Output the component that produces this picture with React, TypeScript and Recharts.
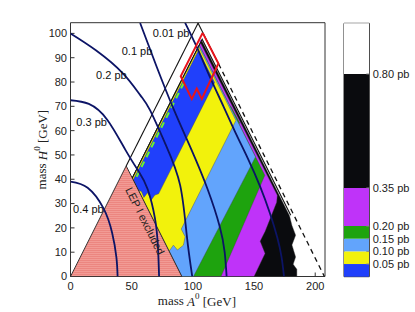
import React from 'react';
import { ScatterChart, Scatter, XAxis, YAxis, ReferenceDot, BarChart, Bar, ReferenceArea } from 'recharts';

type Pt = { x: number; y: number };
const toPts = (a: number[][]): Pt[] => a.map(([x, y]) => ({ x, y }));

const xTicks = [0, 50, 100, 150, 200];
const yTicks = [0, 10, 20, 30, 40, 50, 60, 70, 80, 90, 100];

// filled regions, painted in this order (each on top of the previous)
const region080 = toPts([[50.5, 40.5], [107.2, 97.2], [179, 25], [181, 21], [184, 17], [181, 13], [184, 8], [182, 5], [185, 3], [185, 0], [91, 0], [50.5, 40.5]]);
const region035 = toPts([[50.5, 40.5], [106.2, 96.2], [169, 33.4], [168.5, 30.5], [159, 18.5], [155, 14.5], [159, 9.5], [150, 0], [91, 0], [50.5, 40.5]]);
const region020 = toPts([[50.5, 40.5], [105.2, 95.2], [130, 70.4], [131, 70], [138.5, 63], [137.5, 63], [158.8, 41.6], [123, 0], [91, 0], [50.5, 40.5]]);
const region015 = toPts([[50.5, 40.5], [105.2, 95.2], [151.2, 49.2], [100.5, 0], [91, 0], [50.5, 40.5]]);
const region010 = toPts([[50.5, 40.5], [104.7, 94.7], [135.2, 64.2], [90.5, 19.5], [93.7, 16.4], [92.3, 12.9], [87.4, 10.9], [84.1, 12.9], [80.6, 10.4], [50.5, 40.5]]);
const region005 = toPts([[51.3, 39.8], [104.5, 93], [117.8, 79.8], [72, 34], [69, 33.5], [66, 31.5], [63, 34.5], [60, 32.5], [58, 35], [55.5, 35.5], [51.3, 39.8]]);
const apexSpot = toPts([[105.3, 96.6], [106.2, 97.5], [107, 96.7], [106.1, 95.8], [105.3, 96.6]]);
const lepRegion = toPts([[0, 0], [45.5, 45.5], [91, 0], [0, 0]]);

const regionColors = ['#0a0b0e', '#bf33f9', '#1ea30e', '#62a4fc', '#f2f20c', '#2040fb'];
const regions = [region080, region035, region020, region015, region010, region005];

// cross-section contours
const c001 = toPts([[93.7, 104.3], [104, 93.5], [114, 82], [125, 70], [135, 59], [145, 48.5], [155, 37], [163, 26], [169, 16], [172.5, 8], [174.5, 0]]);
const c01 = toPts([[56.9, 104.3], [70.5, 86.2], [85, 68], [99, 52], [112, 36], [122, 20.5], [126, 10], [127.6, 0]]);
const c02 = toPts([[0, 100], [21, 93], [43, 83.5], [57, 74.6], [65, 68.4], [78, 54], [89.6, 37.6], [95, 17], [99.5, 0]]);
const c03 = toPts([[0, 72.5], [15, 71], [30, 64.5], [45, 52], [56, 43], [63, 36], [69, 24], [71.5, 12], [72.4, 0]]);
const c04 = toPts([[0, 39], [14, 36.5], [27, 28], [34, 18], [37.5, 8], [38.5, 0]]);
const contours = [c001, c01, c02, c03, c04];

const contourLabels = [
  { x: 82.2, y: 100, text: '0.01 pb' },
  { x: 54.4, y: 92.6, text: '0.1 pb' },
  { x: 33.4, y: 82.8, text: '0.2 pb' },
  { x: 17.3, y: 63.6, text: '0.3 pb' },
  { x: 14.6, y: 27.7, text: '0.4 pb' },
];

// other lines
const diagLine = toPts([[45.5, 45.5], [104.3, 104.3]]);
const innerV = toPts([[50.5, 40.5], [107.6, 97.6], [180, 25.2]]);
const outerRightSolid = toPts([[104.2, 104.3], [121, 87.5]]);
const outerRightDashed = toPts([[121, 87.5], [207.5, 0]]);
const limeDashed = toPts([[54, 41], [93, 80]]);
const redOutline = toPts([[108, 100.2], [90.1, 82.4], [99.1, 73], [103.2, 77.3], [107.3, 73], [120.9, 87.6], [108, 100.2]]);

// colour bar
const cbSteps = [0.05, 0.05, 0.05, 0.05, 0.15, 0.45, 0.2];
const cbColors = ['#2040fb', '#f2f20c', '#62a4fc', '#1ea30e', '#bf33f9', '#0a0b0e', '#ffffff'];
const cbTicks = [0.05, 0.1, 0.15, 0.2, 0.35, 0.8];
const cbRow: Record<string, number | string> = { name: 'bar' };
cbSteps.forEach((v, i) => { cbRow['s' + i] = v; });

const sans = 'Liberation Sans, Arial, sans-serif';
const serif = 'Liberation Serif, Times New Roman, serif';
const axisColor = '#333';
const noDot = () => <g />;

const CbTick = (props: any) => (
  <text x={props.x} y={props.y} dy="0.35em" textAnchor="start" fontSize={11} fontFamily={sans} fill="#222">
    {Number(props.payload.value).toFixed(2) + ' pb'}
  </text>
);

const App: React.FC = () => {
  return (
    <div style={{ position: 'absolute', left: 0, top: 0, width: 415, height: 312, background: '#fff' }}>
      <div style={{ position: 'absolute', left: 0, top: 0 }}>
        <ScatterChart width={415} height={312} margin={{ top: 21.7, right: 89, bottom: 5.5, left: 30.5 }}>
          <defs>
            <pattern id="lepHatch" width="4" height="2" patternUnits="userSpaceOnUse">
              <rect width="4" height="2" fill="#f29b95" />
              <rect width="4" height="1" fill="#ec8680" />
            </pattern>
          </defs>
          <XAxis type="number" dataKey="x" domain={[0, 208]} ticks={xTicks} allowDataOverflow height={30}
            tickSize={-4} tickMargin={10} stroke={axisColor}
            tick={{ fill: '#222', fontSize: 11, fontFamily: sans }} />
          <XAxis xAxisId="top" orientation="top" type="number" dataKey="x" domain={[0, 208]} ticks={xTicks}
            allowDataOverflow height={1} tickSize={-4} tick={false} stroke={axisColor} />
          <YAxis type="number" dataKey="y" domain={[0, 104.4]} ticks={yTicks} allowDataOverflow width={40}
            tickSize={-4} tickMargin={7.5} stroke={axisColor}
            tick={{ fill: '#222', fontSize: 11, fontFamily: sans }} />
          <YAxis yAxisId="right" orientation="right" type="number" dataKey="y" domain={[0, 104.4]} ticks={yTicks}
            allowDataOverflow width={1} tickSize={-4} tick={false} stroke={axisColor} />

          {regions.map((r, i) => (
            <Scatter key={'reg' + i} data={r} shape={noDot} isAnimationActive={false}
              line={{ fill: regionColors[i], stroke: '#444', strokeWidth: 0.4 }} />
          ))}
          <Scatter data={apexSpot} shape={noDot} isAnimationActive={false}
            line={{ fill: '#bf33f9', stroke: 'none' }} />
          <Scatter data={lepRegion} shape={noDot} isAnimationActive={false}
            line={{ fill: 'url(#lepHatch)', stroke: '#222', strokeWidth: 0.9 }} />

          <Scatter data={limeDashed} shape={noDot} isAnimationActive={false}
            line={{ stroke: '#6cf52a', strokeWidth: 2, strokeDasharray: '6 5' }} />
          <Scatter data={diagLine} shape={noDot} isAnimationActive={false} line={{ stroke: '#111', strokeWidth: 1.1 }} />
          <Scatter data={innerV} shape={noDot} isAnimationActive={false} line={{ stroke: '#111', strokeWidth: 1.1 }} />
          <Scatter data={outerRightSolid} shape={noDot} isAnimationActive={false} line={{ stroke: '#111', strokeWidth: 1.1 }} />
          <Scatter data={outerRightDashed} shape={noDot} isAnimationActive={false}
            line={{ stroke: '#111', strokeWidth: 1.3, strokeDasharray: '5 4' }} />

          {contours.map((c, i) => (
            <Scatter key={'c' + i} data={c} shape={noDot} isAnimationActive={false} lineJointType="natural"
              line={{ stroke: '#0c1466', strokeWidth: 1.8 }} />
          ))}

          <Scatter data={redOutline} shape={noDot} isAnimationActive={false}
            line={{ stroke: '#e8141c', strokeWidth: 2 }} />

          {contourLabels.map((l) => (
            <ReferenceDot key={l.text} x={l.x} y={l.y} r={0} ifOverflow="visible"
              shape={(p: any) => (
                <text x={p.cx} y={p.cy} textAnchor="middle" dominantBaseline="central"
                  fontSize={11} fontFamily={sans} fill="#111">{l.text}</text>
              )} />
          ))}
          <ReferenceDot x={61} y={22.8} r={0} ifOverflow="visible"
            shape={(p: any) => (
              <text x={p.cx} y={p.cy} textAnchor="middle" dominantBaseline="central" fontSize={11}
                fontFamily={sans} fill="#222" transform={`rotate(63.4 ${p.cx} ${p.cy})`}>LEP I excluded</text>
            )} />
          <ReferenceDot x={103.3} y={-10} r={0} ifOverflow="visible"
            shape={(p: any) => (
              <text x={p.cx} y={p.cy} textAnchor="middle" dominantBaseline="central" fontSize={13}
                fontFamily={serif} fill="#222">
                mass <tspan fontStyle="italic">A</tspan><tspan dy={-5} fontSize={9}>0</tspan>
                <tspan dy={5}> [GeV]</tspan>
              </text>
            )} />
          <ReferenceDot x={-23.3} y={52.2} r={0} ifOverflow="visible"
            shape={(p: any) => (
              <text x={p.cx} y={p.cy} textAnchor="middle" dominantBaseline="central" fontSize={13}
                fontFamily={serif} fill="#222" transform={`rotate(-90 ${p.cx} ${p.cy})`}>
                mass <tspan fontStyle="italic">H</tspan><tspan dy={-5} fontSize={9}>0</tspan>
                <tspan dy={5}> [GeV]</tspan>
              </text>
            )} />
        </ScatterChart>
      </div>

      <div style={{ position: 'absolute', left: 330, top: 0 }}>
        <BarChart width={85} height={312} data={[cbRow]} margin={{ top: 23.3, right: 0.7, bottom: 35.3, left: 14 }}
          barCategoryGap={0} barGap={0}>
          <XAxis dataKey="name" hide />
          <YAxis orientation="right" type="number" domain={[0, 1]} ticks={cbTicks} width={45} interval={0}
            axisLine={false} tickSize={-3} tickMargin={6.4} tickLine={{ stroke: '#888' }}
            tick={<CbTick />} />
          {cbSteps.map((_, i) => (
            <Bar key={'s' + i} dataKey={'s' + i} stackId="cb" fill={cbColors[i]} isAnimationActive={false} />
          ))}
          <ReferenceArea y1={0} y2={1} fill="none" stroke="#222" strokeWidth={1} />
        </BarChart>
      </div>
    </div>
  );
};

export default App;
